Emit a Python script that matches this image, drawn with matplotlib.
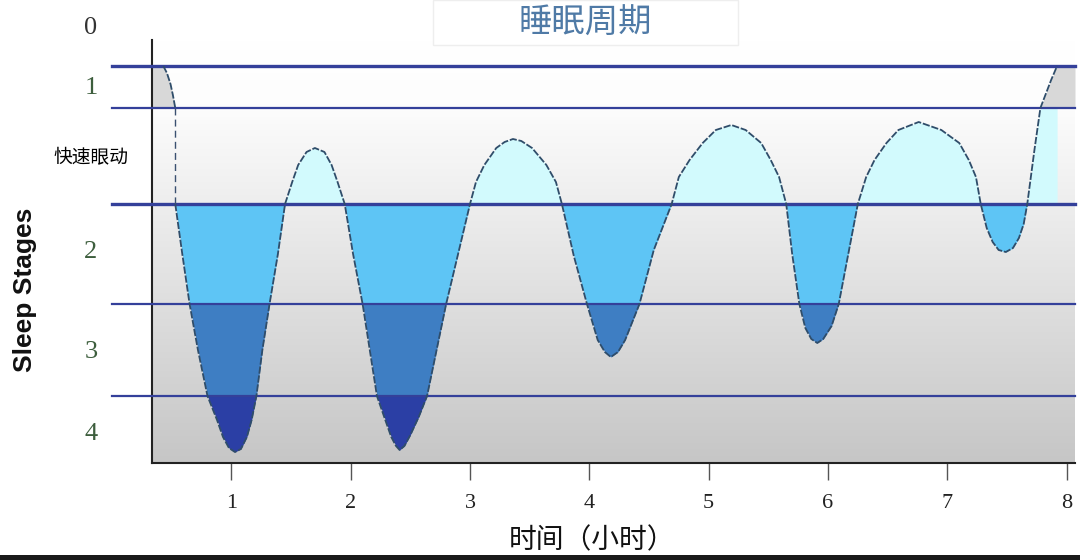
import numpy as np
import matplotlib.pyplot as plt
from matplotlib.colors import LinearSegmentedColormap
from matplotlib.patches import Rectangle

plt.rcParams['font.family'] = ['Noto Sans CJK SC', 'DejaVu Sans']

# 入睡段（从清醒到快速眼动前的虚线）
onset_hours = [0.43, 0.46, 0.49, 0.51, 0.53]
onset_depth = [0.41, 0.48, 0.59, 0.70, 0.83]

# 主睡眠曲线（时间 小时, 深度）
hours = [0.53, 0.59, 0.65, 0.72, 0.80, 0.88, 0.93, 0.98, 1.03, 1.08,
         1.13, 1.17, 1.21, 1.26, 1.32, 1.39, 1.45, 1.51, 1.56, 1.63,
         1.70, 1.78, 1.84, 1.89, 1.95, 2.02, 2.10, 2.16, 2.22, 2.29,
         2.34, 2.38, 2.41, 2.45, 2.50, 2.57, 2.64, 2.72, 2.80, 2.90,
         3.00, 3.05, 3.12, 3.22, 3.29, 3.36, 3.43, 3.52, 3.64, 3.72,
         3.77, 3.87, 3.98, 4.07, 4.13, 4.18, 4.24, 4.30, 4.42, 4.54,
         4.69, 4.75, 4.84, 4.95, 5.06, 5.19, 5.31, 5.44, 5.52, 5.59,
         5.65, 5.70, 5.76, 5.81, 5.86, 5.91, 5.96, 6.03, 6.09, 6.17,
         6.25, 6.32, 6.39, 6.49, 6.59, 6.76, 6.95, 7.10, 7.18, 7.24,
         7.28, 7.33, 7.38, 7.43, 7.49, 7.55, 7.60, 7.64, 7.67, 7.73,
         7.78, 7.87, 7.92]
depth = [1.79, 2.30, 2.79, 3.25, 3.71, 3.95, 4.12, 4.23, 4.27, 4.24,
         4.12, 3.95, 3.71, 3.25, 2.79, 2.29, 1.79, 1.57, 1.40, 1.27,
         1.23, 1.27, 1.40, 1.57, 1.79, 2.29, 2.79, 3.25, 3.71, 3.95,
         4.12, 4.21, 4.25, 4.21, 4.10, 3.92, 3.71, 3.25, 2.79, 2.29,
         1.79, 1.57, 1.40, 1.23, 1.17, 1.14, 1.16, 1.23, 1.40, 1.57,
         1.79, 2.31, 2.79, 3.15, 3.27, 3.32, 3.27, 3.15, 2.79, 2.25,
         1.79, 1.52, 1.35, 1.18, 1.05, 1.00, 1.05, 1.18, 1.35, 1.52,
         1.79, 2.29, 2.79, 3.03, 3.14, 3.18, 3.14, 3.01, 2.79, 2.29,
         1.79, 1.52, 1.35, 1.18, 1.05, 0.97, 1.05, 1.18, 1.35, 1.52,
         1.79, 2.03, 2.17, 2.25, 2.27, 2.23, 2.13, 1.99, 1.79, 1.25,
         0.83, 0.55, 0.41]

stage_lines = [0.41, 0.83, 1.79, 2.79, 3.71]
stage_pos = [0.0, 0.60, 1.30, 2.25, 3.25, 4.07]
stage_labels = ['0', '1', '快速眼动', '2', '3', '4']
hour_ticks = [1, 2, 3, 4, 5, 6, 7, 8]

hours = np.array(hours)
depth = np.array(depth)

fig = plt.figure(figsize=(10.8, 5.6), dpi=100)
ax = fig.add_axes([152 / 1080, 97 / 560, 923 / 1080, 438 / 560])
ax.set_facecolor('none')
x0, x1 = 0.335, 8.07
ax.set_xlim(x0, x1)
ax.set_ylim(4.38, 0.0)

# 背景渐变
grad = LinearSegmentedColormap.from_list('bg', [(0, '#ffffff'), (0.15, '#fdfdfd'), (1, '#c6c6c6')])
ax.imshow(np.linspace(0, 1, 256).reshape(-1, 1), extent=[x0, x1, 4.38, 0.15],
          aspect='auto', cmap=grad, zorder=0)

# 清醒区灰色
ax.fill_betweenx(onset_depth, x0, onset_hours, color='#d8d8d8', lw=0, zorder=1)
ax.fill_betweenx(depth[-3:], hours[-3:], x1, color='#d8d8d8', lw=0, zorder=1)

# 快速眼动（浅青色）
ax.fill_between(hours, np.clip(depth, 0.83, 1.79), 1.79, color='#d2fafd', lw=0, zorder=1)

# 深睡阶段
bands = [(1.79, 2.79, '#5ec5f5'), (2.79, 3.71, '#3e7ec3'), (3.71, 5.0, '#2b3fa5')]
for top, bot, c in bands:
    ax.fill_between(hours, top, np.clip(depth, top, bot), color=c, lw=0, zorder=1)

# 阶段分隔线
for i, y in enumerate(stage_lines):
    lw = 2.4 if i in (0, 2) else 1.6
    ax.plot([0, x1], [y, y], color='#34409a', lw=lw, clip_on=False, zorder=3)

# 曲线
ax.plot(onset_hours, onset_depth, color='#2f4d6a', lw=1.3, ls=(0, (4, 1)), zorder=4)
ax.plot(hours, depth, color='#2f4d6a', lw=1.3, ls=(0, (4, 1)), zorder=4)
ax.plot([0.53, 0.53], [0.83, 1.79], color='#3a5070', lw=1.0, ls=(0, (5, 3)), zorder=4)

# 坐标轴
for s in ['top', 'right']:
    ax.spines[s].set_visible(False)
ax.spines['left'].set_bounds(4.38, 0.15)
ax.spines['left'].set_color('#222222')
ax.spines['left'].set_linewidth(1.5)
ax.spines['bottom'].set_color('#222222')
ax.spines['bottom'].set_linewidth(1.5)

ax.set_xticks(hour_ticks)
ax.set_xticklabels([str(h) for h in hour_ticks], family='Liberation Serif', fontsize=16, color='#222222')
ax.tick_params(axis='x', length=12, width=1, color='#555555', pad=10)

ax.set_yticks(stage_pos)
ax.set_yticklabels(stage_labels)
ax.tick_params(axis='y', length=0, pad=44)
for lab, txt in zip(ax.get_yticklabels(), stage_labels):
    lab.set_ha('center')
    if txt == '快速眼动':
        lab.set_family(['Noto Sans CJK SC', 'DejaVu Sans'])
        lab.set_fontsize(13.5)
        lab.set_color('black')
    else:
        lab.set_family('Liberation Serif')
        lab.set_fontsize(19)
        lab.set_color('#333333' if txt == '0' else '#3d5e3d')

# 标题与标签
fig.patches.append(Rectangle((433 / 1080, 515 / 560), 305 / 1080, 45 / 560, transform=fig.transFigure,
                             fc='white', ec='#eeeeee', lw=1, zorder=5))
fig.text(585 / 1080, 1 - 23 / 560, '睡眠周期', ha='center', va='center', fontsize=24,
         color='#4f7aa6', zorder=6)
fig.text(592 / 1080, 1 - 540 / 560, '时间（小时）', ha='center', va='center', fontsize=20, color='#111111')
fig.text(25 / 1080, 1 - 290 / 560, 'Sleep Stages', rotation=90, ha='center', va='center',
         family='Liberation Sans', weight='bold', fontsize=19, color='#111111')

fig.patches.append(Rectangle((0, 0), 1, 5 / 560, transform=fig.transFigure, fc='#1a1a1a', ec='none'))

fig.savefig('out.png', dpi=100)
